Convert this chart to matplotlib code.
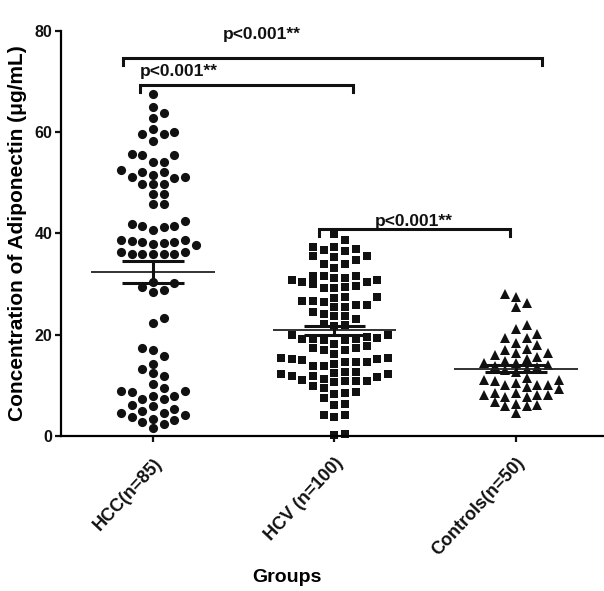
import numpy as np
import matplotlib
matplotlib.use("Agg")
import matplotlib.pyplot as plt

plt.rcParams['font.family'] = ['Liberation Sans', 'DejaVu Sans']
plt.rcParams['font.weight'] = 'bold'

# datos (ug/mL)
hcc = [67.5, 65.0, 63.8, 62.8,
       60.0, 59.6, 60.7, 59.6, 58.2,
       55.5, 55.5, 55.6, 54.1, 54.1,
       51.6, 51.2, 52.1, 52.1, 52.5, 50.9, 51.2,
       49.7, 49.7, 49.7, 47.8, 47.8, 45.8, 45.8,
       41.8, 41.5, 40.7, 41.2, 41.5, 42.4,
       37.9, 38.7, 38.5, 38.3, 38.0, 38.3, 38.7, 37.6,
       36.3, 35.9, 35.9, 35.9, 35.9, 36.0, 36.3,
       30.1, 30.4, 28.9, 28.5, 29.3,
       22.3, 23.3,
       16.9, 17.3, 15.8, 14.2, 13.2, 11.9, 12.3, 10.2,
       8.9, 8.6, 8.9, 9.4, 7.8, 7.2, 7.3, 7.8,
       5.9, 4.9, 5.2, 6.0, 4.4, 4.0, 4.4,
       3.2, 2.8, 3.4, 3.6, 1.5, 2.3]

hcv = [39.9, 38.6,
       37.4, 36.9, 36.5, 36.8, 37.3,
       35.6, 35.6, 35.3, 34.0, 34.0, 34.7, 33.1,
       31.6, 31.6, 31.6,
       31.2, 30.8, 30.3, 29.6, 29.2, 29.2, 29.4, 29.9, 30.3, 30.8, 31.2,
       27.5, 26.6, 26.4, 26.6, 27.3, 27.5,
       25.8, 25.4, 25.4, 25.8,
       24.4, 23.6, 23.6, 24.1, 23.1,
       21.6, 22.0, 21.8,
       19.9, 19.0, 19.2, 19.2, 19.0, 19.2, 19.4, 19.6, 19.9, 18.2,
       17.3, 16.9, 16.2, 16.9, 17.3, 17.8,
       15.3, 15.2, 14.5, 14.5, 13.8, 13.8, 14.1, 14.5, 14.9, 15.2, 15.3,
       12.6, 10.8, 12.1, 10.8, 11.9, 11.6, 11.1, 11.3, 9.5, 11.9, 10.6,
       12.1, 10.8, 12.3, 12.6,
       9.9, 8.4, 7.5, 8.6, 8.3,
       6.1, 6.2, 4.1, 3.7, 4.1,
       0.2, 0.4]

controls = [27.4, 28.0, 26.3, 25.5,
            21.9, 21.1, 20.1, 19.3, 19.3, 18.4, 17.9, 17.1, 16.9,
            16.4, 16.3, 15.9, 15.5, 15.2, 14.3, 14.7, 14.4,
            14.0, 13.8, 13.5, 13.2, 12.9, 12.6,
            11.4, 11.1, 10.4, 10.0, 10.0, 10.0, 10.8, 11.1, 9.3, 9.6,
            8.5, 8.0, 8.0, 7.7, 7.7, 8.0, 8.4,
            6.7, 6.0, 5.9, 5.9, 6.3,
            4.4]

groups = ["HCC(n=85)", "HCV (n=100)", "Controls(n=50)"]
means = [32.4, 20.8, 13.2]
sems = [2.2, 0.8, 0.7]
markers = ['o', 's', '^']

# comparaciones: (x inicio, x fin, altura barra, x texto, y texto)
comparisons = [(-0.167, 2.143, 74.6, 0.60, 78.4),
               (-0.072, 1.10, 69.4, 0.143, 71.1),
               (0.916, 1.967, 40.8, 1.435, 41.5)]
p_label = "p<0.001**"


def swarm_x(vals, step=0.059, thr=1.8):
    # reparte los puntos en columnas como el dot plot de GraphPad
    vals = np.asarray(vals)
    placed = []
    offs = np.zeros(len(vals))
    for i in np.argsort(vals, kind='stable'):
        v = vals[i]
        k = 0
        done = False
        while not done:
            cands = [0] if k == 0 else [k, -k]
            for c in cands:
                if all(abs(v - pv) >= thr for pc, pv in placed if pc == c):
                    placed.append((c, v))
                    offs[i] = c * step
                    done = True
                    break
            k += 1
    return offs


fig = plt.figure(figsize=(6.04, 5.91), dpi=100)
ax = fig.add_axes([61 / 604, (591 - 435.7) / 591, 543 / 604, 404.7 / 591])

thresholds = [1.85, 1.7, 1.75]
for gi, (vals, mk) in enumerate(zip([hcc, hcv, controls], markers)):
    xs = gi + swarm_x(vals, thr=thresholds[gi])
    ms = 6.6 if mk == 'o' else (6.4 if mk == 's' else 7.0)
    ax.plot(xs, vals, linestyle='none', marker=mk, markersize=ms,
            color='#111111', markeredgewidth=0, clip_on=False, zorder=2)
    ax.hlines(means[gi], gi - 0.34, gi + 0.34, color='#222222', lw=1.3, zorder=3)
    ax.vlines(gi, means[gi] - sems[gi], means[gi] + sems[gi], color='#111111', lw=2.2, zorder=3)
    ax.hlines([means[gi] - sems[gi], means[gi] + sems[gi]], gi - 0.17, gi + 0.17,
              color='#111111', lw=2.2, zorder=3)

for x0, x1, y, tx, ty in comparisons:
    ax.plot([x0, x0, x1, x1], [y - 1.4, y, y, y - 1.4], color='#111111', lw=2.2,
            clip_on=False, solid_joinstyle='miter', zorder=4)
    ax.text(tx, ty, p_label, ha='center', va='baseline', fontsize=12.5,
            fontweight='bold', color='#111111')

ax.set_xlim(-0.507, 2.485)
ax.set_ylim(0, 80)
ax.set_yticks([0, 20, 40, 60, 80])
ax.set_xticks([0, 1, 2])
ax.set_xticklabels(groups, rotation=47, ha='right', va='top', rotation_mode='anchor',
                   fontsize=13, fontweight='bold')
for lab in ax.get_yticklabels():
    lab.set_fontsize(11.5)
    lab.set_fontweight('bold')

for s in ['top', 'right']:
    ax.spines[s].set_visible(False)
for s in ['left', 'bottom']:
    ax.spines[s].set_linewidth(1.6)
ax.tick_params(axis='both', direction='out', length=4.5, width=1.6, colors='#111111')
ax.tick_params(axis='y', pad=1.5)
ax.tick_params(axis='x', pad=9)

ax.set_ylabel("Concentration of Adiponectin (\u03bcg/mL)", fontsize=15, fontweight='bold')
ax.yaxis.set_label_coords(-0.062, 0.5)
ax.set_xlabel("Groups", fontsize=14, fontweight='bold')
ax.xaxis.set_label_coords(0.417, -0.33)

fig.savefig("out.png", dpi=100)
